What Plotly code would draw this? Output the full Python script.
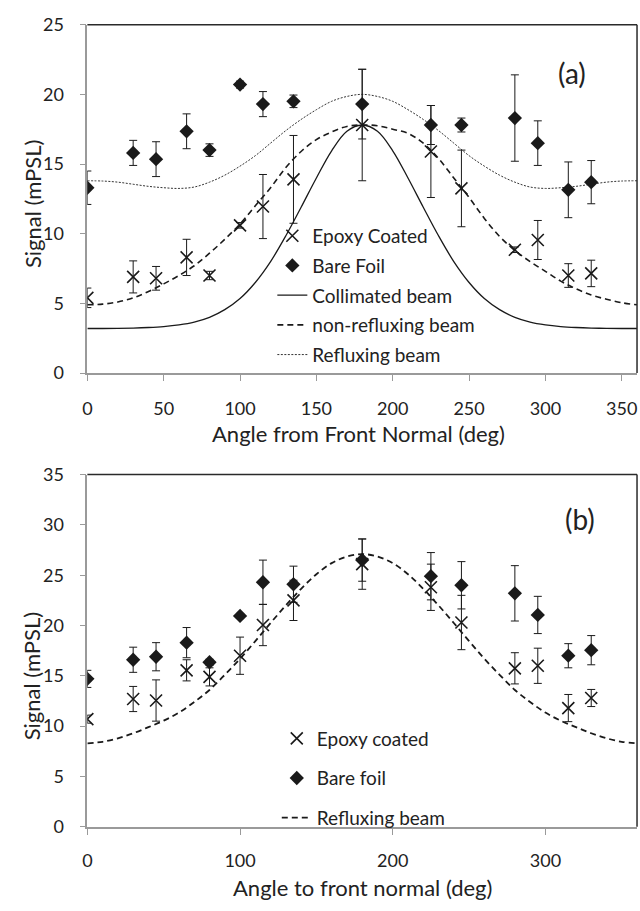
import plotly.graph_objects as go

# ---- measured angles (deg) ----
angles = [0, 30, 45, 65, 80, 100, 115, 135, 180, 225, 245, 280, 295, 315, 330]

# panel (a)
bare_a = [13.3, 15.8, 15.35, 17.35, 16.0, 20.7, 19.3, 19.5, 19.3, 17.8, 17.8, 18.3, 16.5, 13.15, 13.7]
bare_a_err = [1.2, 0.9, 1.25, 1.25, 0.45, 0.25, 0.9, 0.45, 2.5, 1.4, 0.5, 3.1, 1.6, 2.0, 1.55]
epoxy_a = [5.4, 6.9, 6.8, 8.3, 7.0, 10.6, 11.95, 13.9, 17.8, 15.9, 13.25, 8.85, 9.55, 7.0, 7.15]
epoxy_a_err = [0.7, 1.15, 0.85, 1.3, 0.3, 0.2, 2.3, 3.15, 4.0, 3.3, 2.75, 0.2, 1.4, 0.85, 0.95]

# panel (b)
bare_b = [14.7, 16.6, 16.9, 18.3, 16.35, 20.95, 24.3, 24.1, 26.5, 24.9, 24.0, 23.2, 21.05, 17.0, 17.55]
bare_b_err = [0.85, 1.25, 1.4, 1.5, 0.3, 0.2, 2.2, 1.8, 2.1, 2.35, 2.35, 2.75, 1.85, 1.2, 1.45]
epoxy_b = [10.7, 12.7, 12.55, 15.55, 14.9, 17.0, 20.05, 22.5, 26.1, 23.8, 20.3, 15.75, 16.0, 11.8, 12.8]
epoxy_b_err = [0.4, 1.25, 2.05, 1.05, 0.9, 1.85, 2.05, 2.0, 2.5, 2.3, 2.7, 1.55, 1.75, 1.35, 0.85]

# ---- model curves, sampled every 10 deg ----
curve_angles = list(range(0, 361, 10))
collimated = [3.2, 3.2, 3.21, 3.23, 3.27, 3.34, 3.46, 3.66, 4.0, 4.55, 5.35, 6.5, 8.0, 9.85,
              11.9, 14.0, 15.95, 17.35, 17.8, 17.35, 15.95, 14.0, 11.9, 9.85, 8.0, 6.5, 5.35,
              4.55, 4.0, 3.66, 3.46, 3.34, 3.27, 3.23, 3.21, 3.2, 3.2]
non_reflux = [4.9, 4.95, 5.1, 5.4, 5.85, 6.4, 7.0, 7.7, 8.6, 9.6, 10.7, 12.0, 13.3, 14.75,
              15.9, 16.75, 17.3, 17.7, 17.8, 17.75, 17.5, 17.2, 16.5, 15.4, 14.0, 12.6, 11.1,
              9.8, 8.8, 8.0, 7.3, 6.6, 6.05, 5.6, 5.3, 5.05, 4.9]
reflux_a = [13.8, 13.78, 13.7, 13.55, 13.4, 13.3, 13.25, 13.35, 13.7, 14.2, 14.85, 15.6, 16.5,
            17.4, 18.2, 18.9, 19.5, 19.85, 20.0, 19.85, 19.5, 18.9, 18.2, 17.4, 16.5, 15.6,
            14.85, 14.2, 13.7, 13.35, 13.25, 13.3, 13.4, 13.55, 13.7, 13.78, 13.8]
reflux_b = [8.3, 8.45, 8.8, 9.3, 9.9, 10.55, 11.35, 12.4, 13.6, 15.1, 16.7, 18.45, 20.25, 22.0,
            23.65, 25.1, 26.2, 26.85, 27.1, 26.85, 26.2, 25.1, 23.65, 22.0, 20.25, 18.45, 16.7,
            15.1, 13.6, 12.4, 11.35, 10.55, 9.9, 9.3, 8.8, 8.45, 8.3]

FONT = "Lato, 'Open Sans', sans-serif"
INK = "#1a1a1a"
AXIS_GREY = "#9a9a9a"

fig = go.Figure()


def err(vals):
    return dict(type="data", array=vals, symmetric=True, color=INK, thickness=1, width=4)


x_marker = dict(symbol="x-thin-open", size=12, line=dict(color=INK, width=1.6), color=INK)
d_marker = dict(symbol="diamond", size=11, color=INK, line=dict(width=0))

# ---- panel (a) ----
fig.add_trace(go.Scatter(x=curve_angles, y=collimated, mode="lines", name="Collimated beam",
                         line=dict(color=INK, width=1.3, shape="spline"),
                         xaxis="x", yaxis="y", legend="legend", legendgroup="a3", legendrank=3))
fig.add_trace(go.Scatter(x=curve_angles, y=non_reflux, mode="lines", name="non-refluxing beam",
                         line=dict(color=INK, width=1.6, dash="6px,4px", shape="spline"),
                         xaxis="x", yaxis="y", legend="legend", legendgroup="a4", legendrank=4))
fig.add_trace(go.Scatter(x=curve_angles, y=reflux_a, mode="lines", name="Refluxing beam",
                         line=dict(color="#333333", width=1, dash="2px,1.5px", shape="spline"),
                         xaxis="x", yaxis="y", legend="legend", legendgroup="a5", legendrank=5))
fig.add_trace(go.Scatter(x=angles, y=bare_a, mode="markers", name="Bare Foil",
                         marker=d_marker, error_y=err(bare_a_err),
                         xaxis="x", yaxis="y", legend="legend", legendgroup="a2", legendrank=2))
fig.add_trace(go.Scatter(x=angles, y=epoxy_a, mode="markers", name="Epoxy Coated",
                         marker=x_marker, error_y=err(epoxy_a_err),
                         xaxis="x", yaxis="y", legend="legend", legendgroup="a1", legendrank=1))

# ---- panel (b) ----
fig.add_trace(go.Scatter(x=curve_angles, y=reflux_b, mode="lines", name="Refluxing beam",
                         line=dict(color=INK, width=1.8, dash="6px,4px", shape="spline"),
                         xaxis="x2", yaxis="y2", legend="legend2", legendgroup="b3", legendrank=3))
fig.add_trace(go.Scatter(x=angles, y=bare_b, mode="markers", name="Bare foil",
                         marker=d_marker, error_y=err(bare_b_err),
                         xaxis="x2", yaxis="y2", legend="legend2", legendgroup="b2", legendrank=2))
fig.add_trace(go.Scatter(x=angles, y=epoxy_b, mode="markers", name="Epoxy coated",
                         marker=x_marker, error_y=err(epoxy_b_err),
                         xaxis="x2", yaxis="y2", legend="legend2", legendgroup="b1", legendrank=1))

W, H = 640, 911
xl, xr = 83 / W, 637 / W
ya = [(H - 370) / H, (H - 13) / H]
yb = [(H - 835) / H, (H - 474) / H]

tickfont = dict(family=FONT, size=18, color="#222222")
axis_common = dict(showgrid=False, zeroline=False, showline=True, linecolor=AXIS_GREY,
                   linewidth=1.5, ticks="outside", tickcolor=AXIS_GREY, ticklen=6,
                   tickwidth=1.2, tickfont=tickfont, fixedrange=True)

legend_font = dict(family=FONT, size=19, color="#222222")

fig.update_layout(
    width=W, height=H,
    margin=dict(l=0, r=0, t=0, b=0),
    paper_bgcolor="white", plot_bgcolor="white",
    font=dict(family=FONT, color="#222222"),
    xaxis=dict(domain=[xl, xr], range=[0, 360], dtick=50, anchor="y",
               ticklabelstandoff=13, **axis_common),
    yaxis=dict(domain=ya, range=[0, 25], dtick=5, anchor="x",
               ticklabelstandoff=12, **axis_common),
    xaxis2=dict(domain=[xl, xr], range=[0, 360], dtick=100, anchor="y2",
                ticklabelstandoff=11, **axis_common),
    yaxis2=dict(domain=yb, range=[0, 35], dtick=5, anchor="x2",
                ticklabelstandoff=12, **axis_common),
    legend=dict(x=0.421, y=0.7695, xanchor="left", yanchor="top", bgcolor="rgba(0,0,0,0)",
                font=legend_font, traceorder="grouped", tracegroupgap=2, itemwidth=30),
    legend2=dict(x=0.428, y=0.2042, xanchor="left", yanchor="top", bgcolor="rgba(0,0,0,0)",
                 font=legend_font, traceorder="grouped", tracegroupgap=12, itemwidth=30),
)

# frame: dark top and right edges of each panel
for yd in (ya, yb):
    fig.add_shape(type="line", xref="paper", yref="paper", x0=xl, x1=xr, y0=yd[1], y1=yd[1],
                  line=dict(color="#2a2a2a", width=1.5))
    fig.add_shape(type="line", xref="paper", yref="paper", x0=xr, x1=xr, y0=yd[0], y1=yd[1],
                  line=dict(color="#2a2a2a", width=1.5))


def label(text, px, py, font, angle=0):
    fig.add_annotation(text=text, xref="paper", yref="paper", x=px / W, y=(H - py) / H,
                       xanchor="center", yanchor="middle", textangle=angle,
                       showarrow=False, font=font, borderpad=0)


ytitle_font = dict(family=FONT, size=22, color="#222222")
xtitle_font = dict(family=FONT, size=22, color="#222222")
label("Signal (mPSL)", 27, 196, ytitle_font, -90)
label("Signal (mPSL)", 27, 680, ytitle_font, -90)
label("Angle from Front Normal (deg)", 356, 432, xtitle_font)
label("Angle to front normal (deg)", 360, 897, xtitle_font)

panel_font = dict(family=FONT, size=28, color="#222222")
label("(a)", 571, 62, panel_font)
label("(b)", 580, 520, panel_font)

fig.write_html("out.html")
